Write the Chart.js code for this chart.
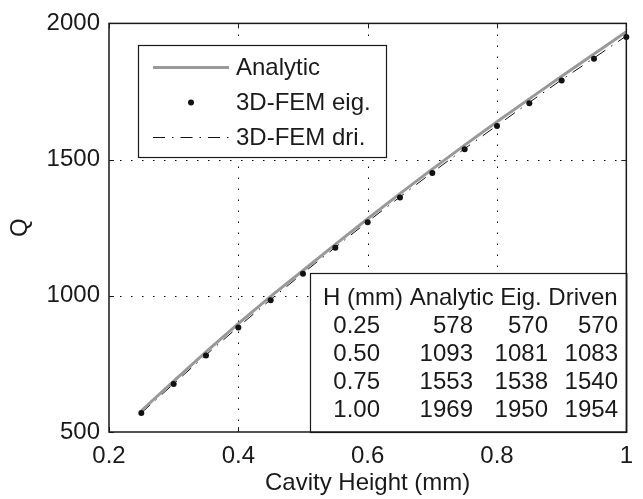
<!DOCTYPE html>
<html>
<head>
<meta charset="utf-8">
<script src="https://cdn.jsdelivr.net/npm/chart.js@4"></script>
<style>
  html, body { margin: 0; padding: 0; background: #fff; }
</style>
</head>
<body>
<canvas id="grafico" width="643" height="499"></canvas>
<script>
// Datos
const alturas = [0.25, 0.30, 0.35, 0.40, 0.45, 0.50, 0.55, 0.60, 0.65, 0.70, 0.75, 0.80, 0.85, 0.90, 0.95, 1.00];
const qAnalitico = [578, 687, 794, 898, 998, 1093, 1189, 1283, 1375, 1465, 1553, 1639, 1723, 1806, 1888, 1969];
const qEig = [570, 676, 781, 884, 984, 1081, 1176, 1270, 1361, 1451, 1538, 1623, 1707, 1790, 1870, 1950];
const qDriven = [570, 677, 783, 886, 986, 1083, 1178, 1272, 1363, 1453, 1540, 1625, 1710, 1793, 1873, 1954];

const ticksX = [0.2, 0.4, 0.6, 0.8, 1];
const ticksY = [500, 1000, 1500, 2000];

const tablaEncabezado = ["H (mm)", "Analytic", "Eig.", "Driven"];
const tablaFilas = [
  ["0.25", "578", "570", "570"],
  ["0.50", "1093", "1081", "1083"],
  ["0.75", "1553", "1538", "1540"],
  ["1.00", "1969", "1950", "1954"]
];

const FUENTE = "'Liberation Sans', Arial, sans-serif";
const TINTA = "#1a1a1a";

function puntos(valores) {
  return alturas.map((h, i) => ({ x: h, y: valores[i] }));
}

// Plugin: rejilla punteada, marco, ticks internos, leyenda y tabla
const marcoMatlab = {
  id: "marcoMatlab",
  beforeDatasetsDraw(chart) {
    const { ctx, chartArea: a, scales: { x, y } } = chart;
    ctx.save();
    ctx.strokeStyle = "#000";
    ctx.lineWidth = 1;
    ctx.setLineDash([1.5, 9.5]);
    ticksX.slice(1, -1).forEach((v) => {
      const px = Math.round(x.getPixelForValue(v)) + 0.5;
      ctx.beginPath(); ctx.moveTo(px, a.bottom); ctx.lineTo(px, a.top); ctx.stroke();
    });
    ticksY.slice(1, -1).forEach((v) => {
      const py = Math.round(y.getPixelForValue(v)) + 0.5;
      ctx.beginPath(); ctx.moveTo(a.left, py); ctx.lineTo(a.right, py); ctx.stroke();
    });
    ctx.restore();
  },
  afterDatasetsDraw(chart) {
    const { ctx, chartArea: a, scales: { x, y } } = chart;
    ctx.save();
    ctx.setLineDash([]);

    // ticks hacia dentro
    ctx.strokeStyle = TINTA;
    ctx.lineWidth = 1;
    const largo = 5;
    ticksX.forEach((v) => {
      const px = Math.round(x.getPixelForValue(v)) + 0.5;
      ctx.beginPath();
      ctx.moveTo(px, a.bottom); ctx.lineTo(px, a.bottom - largo);
      ctx.moveTo(px, a.top); ctx.lineTo(px, a.top + largo);
      ctx.stroke();
    });
    ticksY.forEach((v) => {
      const py = Math.round(y.getPixelForValue(v)) + 0.5;
      ctx.beginPath();
      ctx.moveTo(a.left, py); ctx.lineTo(a.left + largo, py);
      ctx.moveTo(a.right, py); ctx.lineTo(a.right - largo, py);
      ctx.stroke();
    });

    // leyenda
    const ds = chart.data.datasets;
    ctx.fillStyle = "#fff";
    ctx.fillRect(138, 45, 248, 112);
    ctx.strokeStyle = TINTA;
    ctx.lineWidth = 1.2;
    ctx.strokeRect(138.5, 45.5, 248, 112);
    ctx.font = "24px " + FUENTE;
    ctx.textBaseline = "middle";
    ctx.textAlign = "left";
    const filasLeyenda = [67, 102, 137];
    ds.forEach((d, i) => {
      const yy = filasLeyenda[i] + 0.5;
      if (d.showLine !== false) {
        ctx.strokeStyle = d.borderColor;
        ctx.lineWidth = d.borderWidth;
        ctx.setLineDash(d.borderDash || []);
        ctx.beginPath(); ctx.moveTo(153, yy); ctx.lineTo(229, yy); ctx.stroke();
        ctx.setLineDash([]);
      } else {
        ctx.fillStyle = d.pointBackgroundColor;
        ctx.beginPath(); ctx.arc(191, yy, d.pointRadius, 0, Math.PI * 2); ctx.fill();
      }
      ctx.fillStyle = TINTA;
      ctx.fillText(d.label, 236, filasLeyenda[i] + 1);
    });

    // tabla
    ctx.fillStyle = "#fff";
    ctx.fillRect(310, 273, a.right - 310, a.bottom - 273);
    ctx.strokeStyle = TINTA;
    ctx.lineWidth = 1.2;
    ctx.strokeRect(310.5, 273.5, a.right - 310, a.bottom - 273);
    ctx.fillStyle = TINTA;
    ctx.textAlign = "left";
    ctx.fillText(tablaEncabezado.join(" "), 323, 298);
    const colDer = [380, 473, 548, 618];
    const filasY = [326, 354, 382, 410];
    ctx.textAlign = "right";
    tablaFilas.forEach((fila, r) => {
      fila.forEach((txt, c) => ctx.fillText(txt, colDer[c], filasY[r]));
    });

    // marco del eje
    ctx.strokeStyle = TINTA;
    ctx.lineWidth = 1.5;
    ctx.strokeRect(a.left, a.top, a.right - a.left, a.bottom - a.top);
    ctx.restore();
  }
};

Chart.defaults.font.family = FUENTE;
Chart.defaults.font.size = 24;
Chart.defaults.color = TINTA;

const grafico = new Chart(document.getElementById("grafico"), {
  type: "line",
  data: {
    datasets: [
      {
        label: "Analytic",
        data: puntos(qAnalitico),
        borderColor: "#999999",
        borderWidth: 3,
        pointRadius: 0,
        fill: false,
        order: 1
      },
      {
        label: "3D-FEM eig.",
        data: puntos(qEig),
        showLine: false,
        pointRadius: 3,
        pointBackgroundColor: "#111",
        pointBorderWidth: 0,
        order: 0
      },
      {
        label: "3D-FEM dri.",
        data: puntos(qDriven),
        borderColor: "#111",
        borderWidth: 1,
        borderDash: [12, 7, 1.5, 7],
        pointRadius: 0,
        fill: false,
        order: 2
      }
    ]
  },
  options: {
    responsive: false,
    animation: false,
    clip: false,
    layout: { padding: { top: 23, right: 5, left: 0, bottom: 0 } },
    plugins: { legend: { display: false }, tooltip: { enabled: false } },
    scales: {
      x: {
        type: "linear",
        min: 0.2,
        max: 1,
        afterBuildTicks: (s) => { s.ticks = ticksX.map((v) => ({ value: v })); },
        afterFit: (s) => { s.height = 67; },
        grid: { display: false, drawTicks: false },
        border: { display: false },
        ticks: {
          padding: 10,
          maxRotation: 0,
          callback: (v) => String(Number(v.toFixed(1)))
        },
        title: { display: true, text: "Cavity Height (mm)", padding: { top: 0, bottom: 1 } }
      },
      y: {
        type: "linear",
        min: 500,
        max: 2000,
        afterBuildTicks: (s) => { s.ticks = ticksY.map((v) => ({ value: v })); },
        afterFit: (s) => { s.width = 109; },
        grid: { display: false, drawTicks: false },
        border: { display: false },
        ticks: { padding: 9, callback: (v) => String(v) },
        title: { display: true, text: "Q", padding: { top: 6, bottom: 0 } }
      }
    }
  },
  plugins: [marcoMatlab]
});
</script>
</body>
</html>
